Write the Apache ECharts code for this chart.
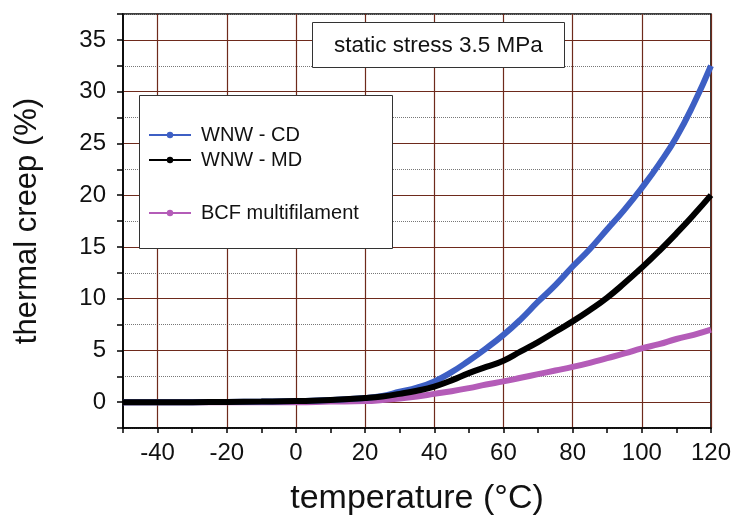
<!DOCTYPE html>
<html>
<head>
<meta charset="utf-8">
<script src="https://cdn.jsdelivr.net/npm/echarts@6/dist/echarts.min.js"></script>
<style>html,body{margin:0;padding:0;background:#fff;}#c{width:734px;height:521px;}</style>
</head>
<body>
<div id="c"></div>
<script>
const temps = [-50,-40,-30,-20,-10,0,10,20,25,30,35,40,45,50,55,60,65,70,75,80,85,90,95,100,105,110,115,120];
const wnwCD = [0,0,0,0.02,0.05,0.1,0.2,0.4,0.6,1.0,1.4,2.0,2.9,4.0,5.2,6.5,8.0,9.7,11.3,13.1,14.8,16.7,18.6,20.7,23.0,25.6,28.8,32.5];
const wnwMD = [0,0,0,0.02,0.05,0.1,0.2,0.4,0.55,0.8,1.1,1.5,2.1,2.8,3.4,4.0,4.9,5.8,6.8,7.8,8.9,10.1,11.5,13.0,14.6,16.3,18.1,20.0];
const bcf   = [0,0,0,0,0,0,0.05,0.1,0.2,0.35,0.55,0.8,1.05,1.35,1.7,2.0,2.35,2.7,3.05,3.4,3.8,4.25,4.7,5.2,5.6,6.1,6.5,7.0];
const seriesNames = ['WNW - CD','WNW - MD','BCF multifilament'];
const annotation = 'static stress 3.5 MPa';

const pairs = arr => temps.map((t,i)=>[t,arr[i]]);
const font = 'Liberation Sans, Arial, sans-serif';
const grid = '#6e2a1c';
const chart = echarts.init(document.getElementById('c'));
chart.setOption({
  animation:false,
  backgroundColor:'#fff',
  grid:{left:123,right:22,top:14,bottom:92,show:true,borderColor:'#000',borderWidth:1.5,backgroundColor:'transparent'},
  title:{text:annotation,left:312,top:22,padding:[12,22,11,22],borderColor:'#333',borderWidth:1,backgroundColor:'#fff',
    textStyle:{fontFamily:font,fontSize:22.5,fontWeight:'normal',color:'#111'}},
  xAxis:{type:'value',min:-50,max:120,interval:10,
    name:'temperature (°C)',nameLocation:'middle',nameGap:54,
    nameTextStyle:{fontFamily:font,fontSize:34,color:'#111'},
    axisLine:{show:true,onZero:false,lineStyle:{color:'#000',width:1.5}},
    axisTick:{show:true,inside:false,length:5,lineStyle:{color:'#000',width:1.5}},
    axisLabel:{fontFamily:font,fontSize:24,color:'#111',margin:13,formatter:v=>(v%20===0 && v>-50)?String(v):''},
    splitLine:{show:true,lineStyle:{color:['rgba(0,0,0,0)',grid],width:1.2}}},
  yAxis:[{type:'value',min:-2.5,max:37.5,interval:2.5,
    name:'thermal creep (%)',nameLocation:'middle',nameGap:80,
    nameTextStyle:{fontFamily:font,fontSize:31,color:'#111'},
    axisLine:{show:true,onZero:false,lineStyle:{color:'#000',width:1.5}},
    axisTick:{show:true,inside:false,length:6,lineStyle:{color:'#000',width:1.5}},
    axisLabel:{fontFamily:font,fontSize:24,color:'#111',margin:17,formatter:v=>(Math.abs(v%5)<1e-9 && v>=0 && v<=35)?String(v):''},
    splitLine:{show:true,lineStyle:{color:['rgba(0,0,0,0)',grid],width:1.2}}},
   {type:'value',min:-2.5,max:37.5,interval:2.5,position:'left',
    axisLine:{show:false},axisTick:{show:false},axisLabel:{show:false},
    splitLine:{show:true,lineStyle:{color:['#777','rgba(0,0,0,0)'],width:1,type:'dotted'}}}],
  legend:[
    {data:[seriesNames[0],seriesNames[1]],orient:'vertical',left:148,top:125,padding:0,itemWidth:42,itemHeight:8,itemGap:5,z:10,
      textStyle:{fontFamily:font,fontSize:20,color:'#111',padding:[0,0,0,5]}},
    {data:[seriesNames[2]],orient:'vertical',left:148,top:203,padding:0,itemWidth:42,itemHeight:8,z:10,
      textStyle:{fontFamily:font,fontSize:20,color:'#111',padding:[0,0,0,5]}}
  ],
  graphic:[{type:'rect',left:139,top:95,z:3,shape:{width:253,height:153},style:{fill:'#fff',stroke:'#333',lineWidth:1}}],
  series:[
    {name:seriesNames[0],type:'line',data:pairs(wnwCD),smooth:true,symbol:'circle',symbolSize:6,showSymbol:false,
      lineStyle:{color:'#3d5fc4',width:6},itemStyle:{color:'#3d5fc4'},z:5},
    {name:seriesNames[1],type:'line',data:pairs(wnwMD),smooth:true,symbol:'circle',symbolSize:6,showSymbol:false,
      lineStyle:{color:'#000',width:6},itemStyle:{color:'#000'},z:5},
    {name:seriesNames[2],type:'line',data:pairs(bcf),smooth:true,symbol:'circle',symbolSize:6,showSymbol:false,
      lineStyle:{color:'#b45cb8',width:6},itemStyle:{color:'#b45cb8'},z:4}
  ]
});
</script>
</body>
</html>
